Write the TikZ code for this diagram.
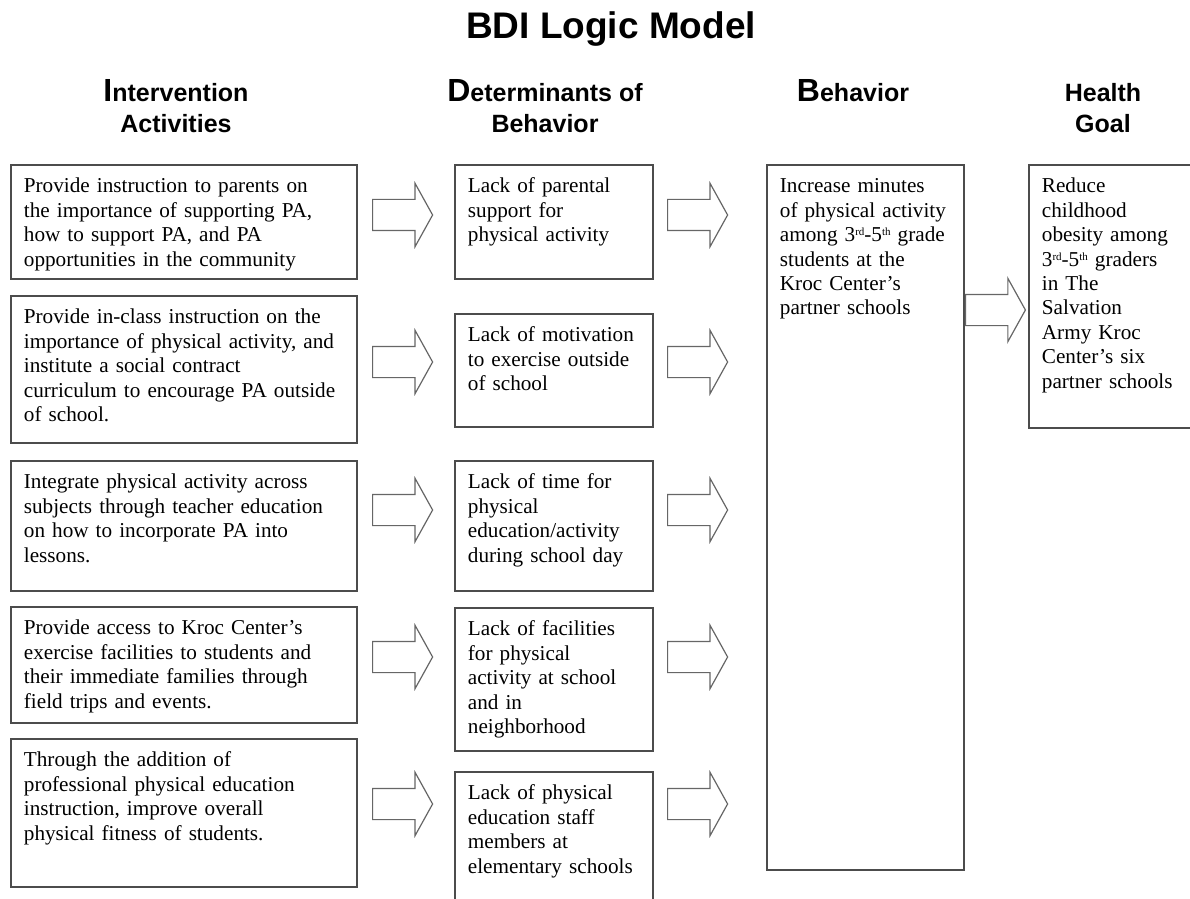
\documentclass[tikz,border=0pt]{standalone}
\usepackage{fontspec}
\setmainfont{Liberation Serif}
\setsansfont{Liberation Sans}
\usetikzlibrary{shapes.arrows}
\newcommand{\firstbig}[1]{{\fontsize{16}{16}\selectfont #1}}
\newcommand{\supsmall}[1]{\raisebox{0.6ex}{\fontsize{5.5}{5.5}\selectfont #1}}
\newcommand{\rdth}{3\supsmall{rd}-5\supsmall{th}}

\begin{document}
\begin{tikzpicture}[x=0.5pt,y=-0.5pt,
  head/.style={font=\sffamily\bfseries\fontsize{12.5}{15.5}\selectfont,align=center,inner sep=0pt,anchor=base},
  box/.style={draw=black!70,line width=0.9pt,anchor=north west,align=left,inner xsep=6.5pt,inner ysep=6pt,text height=8pt,font=\fontsize{10.6}{12.2}\selectfont},
  blockarrow/.style={single arrow,draw=black!60,line width=0.6pt,fill=white,anchor=west,inner xsep=0pt,inner ysep=7.5pt,single arrow head extend=8pt,single arrow tip angle=122,minimum height=30pt}]
%\draw[help lines] (0,0) grid[step=50] (1190,899);
\useasboundingbox (0,0) rectangle (1190,899);
\node[font=\sffamily\bfseries\fontsize{18.5}{18.5}\selectfont,anchor=base] (title) at (611,39) {BDI Logic Model};
\node[head] (h1) at (176,133) {\firstbig{I}ntervention\\Activities};
\node[head] (h2) at (545,133) {\firstbig{D}eterminants of\\Behavior};
\node[head] (h3) at (853,102) {\firstbig{B}ehavior};
\node[head] (h4) at (1103,133) {Health\\Goal};

% intervention activities
\node[box,text width=160pt,text depth=37pt] (ia1) at (10,164) {Provide instruction to parents on\\the importance of supporting PA,\\how to support PA, and PA\\opportunities in the community};
\node[box,text width=160pt,text depth=53.5pt] (ia2) at (10,295) {Provide in-class instruction on the\\importance of physical activity, and\\institute a social contract\\curriculum to encourage PA outside\\of school.};
\node[box,text width=160pt,text depth=45pt] (ia3) at (10,460) {Integrate physical activity across\\subjects through teacher education\\on how to incorporate PA into\\lessons.};
\node[box,text width=160pt,text depth=38pt] (ia4) at (10,606) {Provide access to Kroc Center’s\\exercise facilities to students and\\their immediate families through\\field trips and events.};
\node[box,text width=160pt,text depth=54pt] (ia5) at (10,738) {Through the addition of\\professional physical education\\instruction, improve overall\\physical fitness of students.};

% determinants
\node[box,text width=86pt,text depth=37pt] (db1) at (454,164) {Lack of parental\\support for\\physical activity};
\node[box,text width=86pt,text depth=36.5pt] (db2) at (454,313) {Lack of motivation\\to exercise outside\\of school};
\node[box,text width=86pt,text depth=45pt] (db3) at (454,460) {Lack of time for\\physical\\education/activity\\during school day};
\node[box,text width=86pt,text depth=51.5pt] (db4) at (454,607) {Lack of facilities\\for physical\\activity at school\\and in\\neighborhood};
\node[box,text width=86pt,text depth=60pt] (db5) at (454,771) {Lack of physical\\education staff\\members at\\elementary schools};

% behavior and goal
\node[box,text width=85.5pt,text depth=332.5pt] (beh) at (766,164) {Increase minutes\\of physical activity\\among \rdth{} grade\\students at the\\Kroc Center’s\\partner schools};
\node[box,text width=73pt,text depth=111.5pt] (goal) at (1028,164) {Reduce\\childhood\\obesity among\\\rdth{} graders\\in The\\Salvation\\Army Kroc\\Center’s six\\partner schools};

\foreach \y/\n in {215/1, 362/2, 510/3, 657/4, 804/5} {
  \node[blockarrow] (a\n) at (372,\y) {};
  \node[blockarrow] (b\n) at (667,\y) {};
}
\node[blockarrow] (c) at (beh.east |- 0,310) {};
\end{tikzpicture}
\end{document}
